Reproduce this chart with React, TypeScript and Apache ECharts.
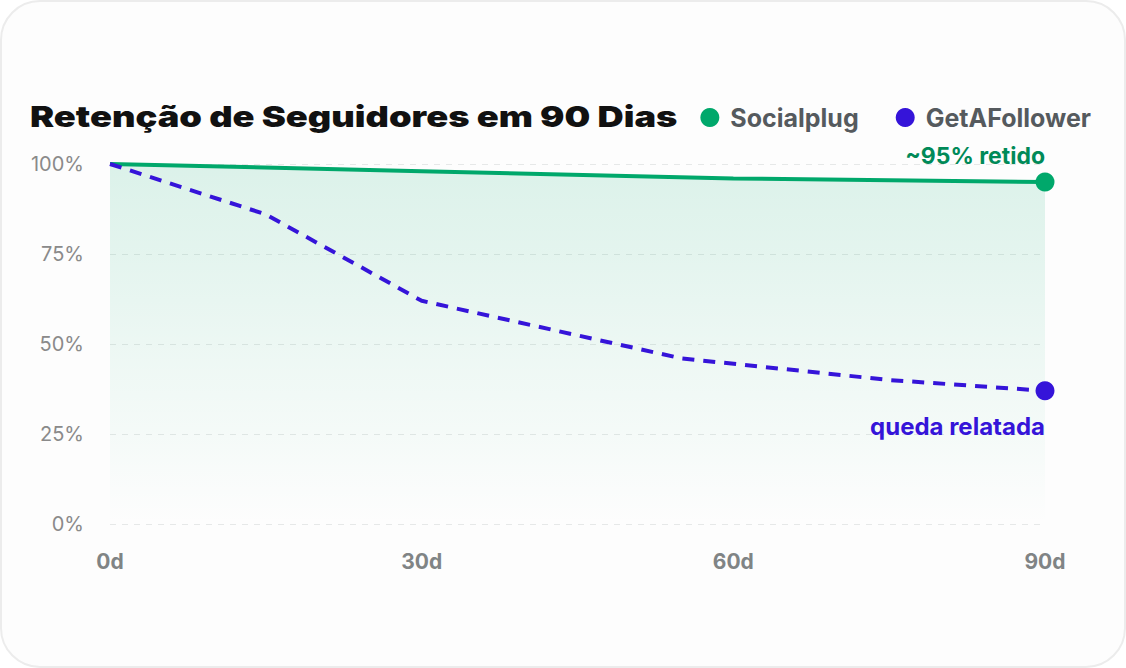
import React, { useEffect, useRef } from "react";
import * as echarts from "echarts";

const TITLE = "Retenção de Seguidores em 90 Dias";
const SERIES_NAMES = ["Socialplug", "GetAFollower"];
const X_TICKS = [0, 30, 60, 90];
const Y_TICKS = [0, 25, 50, 75, 100];
const socialplug: [number, number][] = [
  [0, 100],
  [30, 98],
  [60, 96],
  [90, 95],
];
const getafollower: [number, number][] = [
  [0, 100],
  [15, 86],
  [30, 62],
  [55, 46],
  [75, 40],
  [90, 37],
];
const LABEL_SOCIAL = "~95% retido";
const LABEL_GAF = "queda relatada";

const GREEN = "#00a86b";
const PURPLE = "#3514d9";

export default function App() {
  const ref = useRef<HTMLDivElement>(null);
  useEffect(() => {
    document.body.style.margin = "0";
    const chart = echarts.init(ref.current!, null, { renderer: "svg" });
    const last = (a: [number, number][]) => a[a.length - 1];
    chart.setOption({
      animation: false,
      graphic: [
        {
          type: "text",
          x: 30,
          y: 116,
          scaleX: 1.25,
          style: {
            text: TITLE,
            fontFamily: "Inter",
            fontWeight: 900,
            fontSize: 29,
            fill: "#111111",
            textVerticalAlign: "middle",
          },
        },
      ],
      legend: {
        data: SERIES_NAMES,
        right: 30,
        top: 100,
        icon: "circle",
        itemWidth: 19,
        itemHeight: 19,
        itemGap: 37,
        textStyle: {
          fontFamily: "Inter",
          fontWeight: "bold",
          fontSize: 25,
          color: "#555a5e",
          padding: [0, 0, 0, 6],
        },
      },
      grid: { left: 110, right: 81, top: 164, bottom: 144 },
      xAxis: {
        type: "value",
        min: 0,
        max: 90,
        interval: 30,
        axisLine: { show: false },
        axisTick: { show: false },
        splitLine: { show: false },
        axisLabel: {
          margin: 27,
          fontFamily: "Inter",
          fontWeight: "bold",
          fontSize: 21,
          color: "#808485",
          formatter: (v: number) => (X_TICKS.includes(v) ? `${v}d` : ""),
        },
      },
      yAxis: {
        type: "value",
        min: 0,
        max: 100,
        interval: 25,
        axisLine: { show: false },
        axisTick: { show: false },
        splitLine: {
          show: true,
          lineStyle: { color: "#e6e8e8", type: [6, 6], width: 1 },
        },
        axisLabel: {
          margin: 26,
          fontFamily: "Inter",
          fontSize: 20,
          color: "#8a8a8a",
          formatter: (v: number) => (Y_TICKS.includes(v) ? `${v}%` : ""),
        },
      },
      series: [
        {
          name: SERIES_NAMES[0],
          type: "line",
          data: socialplug,
          showSymbol: false,
          symbol: "none",
          itemStyle: { color: GREEN },
          lineStyle: { color: GREEN, width: 4 },
          areaStyle: {
            color: new echarts.graphic.LinearGradient(0, 0, 0, 1, [
              { offset: 0, color: "rgba(0,168,107,0.19)" },
              { offset: 1, color: "rgba(0,168,107,0)" },
            ]),
          },
          z: 3,
        },
        {
          name: SERIES_NAMES[1],
          type: "line",
          data: getafollower,
          showSymbol: false,
          symbol: "none",
          itemStyle: { color: PURPLE },
          lineStyle: { color: PURPLE, width: 4, type: [12, 9] },
          z: 4,
        },
        {
          name: "end-social",
          type: "scatter",
          data: [last(socialplug)],
          symbol: "circle",
          symbolSize: 19,
          itemStyle: { color: GREEN, opacity: 1 },
          label: {
            show: true,
            position: "top",
            align: "right",
            distance: 5,
            offset: [0, 0],
            formatter: LABEL_SOCIAL,
            fontFamily: "Inter",
            fontWeight: "bold",
            fontSize: 23,
            color: "#008a58",
          },
          z: 5,
        },
        {
          name: "end-gaf",
          type: "scatter",
          data: [last(getafollower)],
          symbol: "circle",
          symbolSize: 19,
          itemStyle: { color: PURPLE, opacity: 1 },
          label: {
            show: true,
            position: "bottom",
            align: "right",
            distance: 14,
            offset: [0, 0],
            formatter: LABEL_GAF,
            fontFamily: "Inter",
            fontWeight: "bold",
            fontSize: 24,
            color: PURPLE,
          },
          z: 5,
        },
      ],
    });
    return () => chart.dispose();
  }, []);
  return (
    <div
      style={{
        width: 1126,
        height: 668,
        boxSizing: "border-box",
        border: "2px solid #ececec",
        borderRadius: 40,
        background: "#fdfdfd",
        overflow: "hidden",
        position: "relative",
      }}
    >
      <div ref={ref} style={{ position: "absolute", left: -2, top: -2, width: 1126, height: 668 }} />
    </div>
  );
}
